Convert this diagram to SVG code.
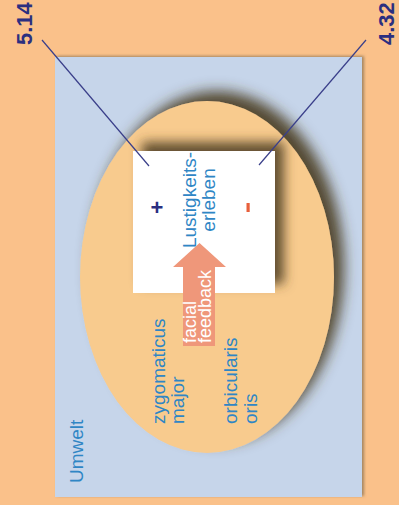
<svg xmlns="http://www.w3.org/2000/svg" width="399" height="505" viewBox="0 0 399 505">
  <style>
    .lbl { font-family: "Liberation Sans", Arial, sans-serif; fill: #2F86C5; font-size: 19px; }
    .num { font-family: "Liberation Sans", Arial, sans-serif; fill: #2B2F80; font-size: 22px; font-weight: bold; }
    .fb { font-family: "Liberation Sans", Arial, sans-serif; fill: #FFFFFF; font-size: 18px; }
    .conn { stroke: #3A3F8A; stroke-width: 1.2; fill: none; }
  </style>
  <defs>
    <filter id="shBig" x="-20%" y="-20%" width="140%" height="140%">
      <feDropShadow dx="10" dy="-10" stdDeviation="7" flood-color="#4A3A1E" flood-opacity="0.9"/>
    </filter>
    <filter id="shBox" x="-20%" y="-20%" width="140%" height="140%">
      <feDropShadow dx="9" dy="-9" stdDeviation="6" flood-color="#4A3A1E" flood-opacity="0.85"/>
    </filter>
    <filter id="shSmall" x="-5%" y="-5%" width="110%" height="110%">
      <feDropShadow dx="2" dy="-1" stdDeviation="1.5" flood-color="#6A5A40" flood-opacity="0.6"/>
    </filter>
  </defs>

  <rect id="background" x="0" y="0" width="399" height="505" fill="#FAC18A"/>

  <g id="umwelt">
    <rect x="55" y="57" width="307" height="440" fill="#C6D5EA" filter="url(#shSmall)"/>
    <text class="lbl" transform="translate(83,483) rotate(-90)" font-size="20">Umwelt</text>
  </g>

  <g id="face">
    <ellipse cx="207" cy="277" rx="127" ry="176" fill="#F8CB8E" filter="url(#shBig)"/>
    <text class="lbl" transform="translate(165,424) rotate(-90)" font-size="20">zygomaticus</text>
    <text class="lbl" transform="translate(184,424) rotate(-90)" font-size="20">major</text>
    <text class="lbl" transform="translate(237,424) rotate(-90)">orbicularis</text>
    <text class="lbl" transform="translate(257,424) rotate(-90)">oris</text>
  </g>

  <g id="lustigkeit">
    <rect x="133" y="151" width="142" height="142" fill="#FFFFFF" filter="url(#shBox)"/>
    <text class="lbl" transform="translate(196,200) rotate(-90)" text-anchor="middle">Lustigkeits-</text>
    <text class="lbl" transform="translate(215,200) rotate(-90)" text-anchor="middle">erleben</text>
    <text transform="translate(157,207)" text-anchor="middle" dominant-baseline="central" font-family="Liberation Sans, Arial, sans-serif" font-weight="bold" font-size="22" fill="#2B2F80">+</text>
    <rect x="246.5" y="203" width="3.2" height="9" fill="#E8603C"/>
  </g>

  <g id="facial-feedback">
    <polygon points="183,346 215,346 215,267 226,267 199.5,243 173,267 183,267" fill="#EF977A"/>
    <text class="fb" transform="translate(196,343) rotate(-90)">facial</text>
    <text class="fb" transform="translate(211,343) rotate(-90)">feedback</text>
  </g>

  <g id="connectors">
    <line class="conn" x1="42" y1="40" x2="149" y2="166"/>
    <line class="conn" x1="366" y1="40" x2="259" y2="165"/>
  </g>

  <g id="values">
    <text class="num" transform="translate(32,45) rotate(-90)">5.14</text>
    <text class="num" transform="translate(394,45) rotate(-90)">4.32</text>
  </g>
</svg>
